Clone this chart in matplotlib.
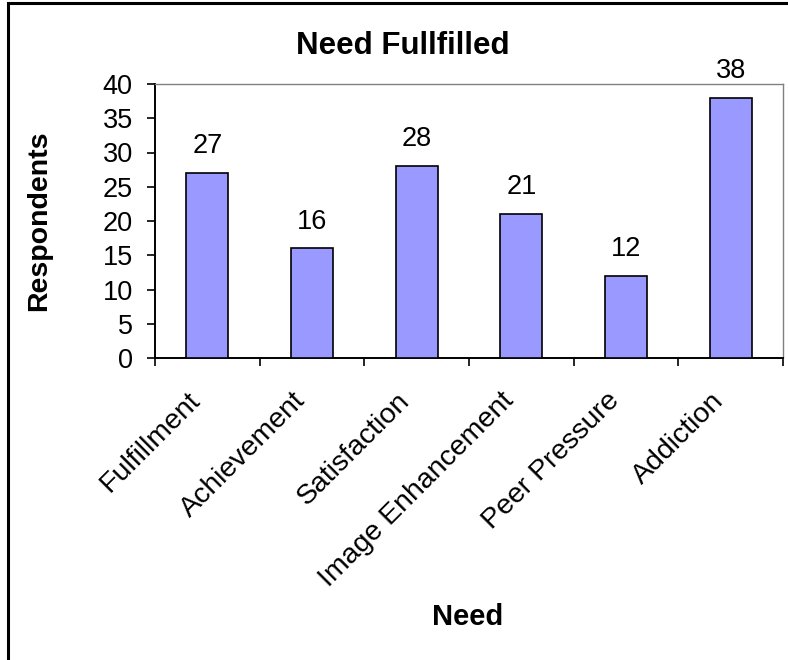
import matplotlib
matplotlib.use("Agg")
import matplotlib.pyplot as plt
import matplotlib.transforms as mtransforms
from matplotlib.patches import Rectangle
import numpy as np

plt.rcParams["font.family"] = ["Liberation Sans", "DejaVu Sans"]

needs = ["Fulfillment", "Achievement", "Satisfaction", "Image Enhancement",
         "Peer Pressure", "Addiction"]
respondents = [27, 16, 28, 21, 12, 38]
y_ticks = [0, 5, 10, 15, 20, 25, 30, 35, 40]

W, H = 788, 660
fig = plt.figure(figsize=(W / 100, H / 100), dpi=100)
ax = fig.add_axes([155 / W, 1 - 358 / H, (783 - 155) / W, (358 - 84) / H])

x = np.arange(len(needs))
bars = ax.bar(x, respondents, width=0.4, color="#9999FF",
              edgecolor="black", linewidth=1.2, zorder=3)

# value labels above each bar
for xi, v in zip(x, respondents):
    ax.annotate(str(v), (xi, v), xytext=(0, 10), textcoords="offset points",
                ha="center", va="bottom", fontsize=19.5, clip_on=False)

ax.set_xlim(-0.5, len(needs) - 0.5)
ax.set_ylim(0, 40)
ax.set_yticks(y_ticks)
ax.tick_params(axis="y", direction="out", length=6, width=1.2,
               labelsize=19.5, pad=10)

# category ticks sit between bars, labels at bar centres
ax.set_xticks(np.arange(-0.5, len(needs)), minor=False)
ax.set_xticklabels([])
ax.set_xticks(x, minor=True)
ax.set_xticklabels(needs, minor=True, rotation=45, ha="right",
                   va="center", rotation_mode="anchor", fontsize=20.5)
ax.tick_params(axis="x", which="major", direction="out", length=6, width=1.2)
ax.tick_params(axis="x", which="minor", length=0, pad=28)
shift = mtransforms.ScaledTranslation(-11 / 100, 0, fig.dpi_scale_trans)
for lbl in ax.get_xticklabels(minor=True):
    lbl.set_transform(lbl.get_transform() + shift)

for side in ["left", "bottom"]:
    ax.spines[side].set_color("black")
    ax.spines[side].set_linewidth(1.4)
for side in ["top", "right"]:
    ax.spines[side].set_color("#808080")
    ax.spines[side].set_linewidth(1.0)

ax.set_ylabel("Respondents", fontsize=20.5, fontweight="bold")
ax.yaxis.set_label_coords((52 - 155) / 628, 0.5)
fig.text(468 / W, 1 - 617 / H, "Need", fontsize=21, fontweight="bold",
         ha="center", va="center")
fig.text(403 / W, 1 - 46 / H, "Need Fullfilled", fontsize=22.5,
         fontweight="bold", ha="center", va="center")

# chart area border
fig.add_artist(Rectangle((8 / W, -0.1), 1.2, 1.1 - 3 / H,
                         transform=fig.transFigure, fill=False,
                         edgecolor="black", linewidth=2.2))

fig.savefig("out.png", dpi=100)
